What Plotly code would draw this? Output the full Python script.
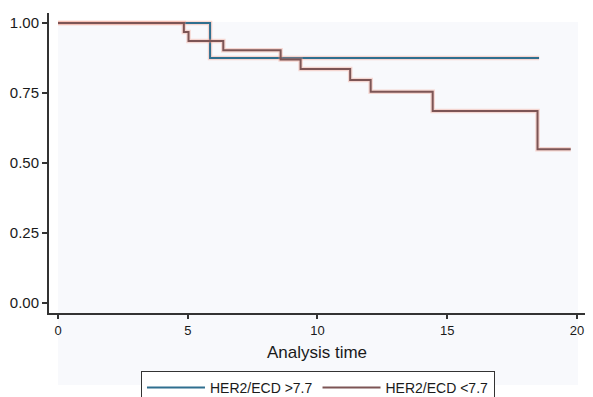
import plotly.graph_objects as go

# Kaplan-Meier step data
time_high = [0, 5.86, 18.54]
surv_high = [1.0, 0.875, 0.875]

time_low = [0, 4.85, 5.03, 6.37, 8.58, 9.35, 11.26, 12.05, 14.44, 18.48, 19.76]
surv_low = [1.0, 0.968, 0.936, 0.903, 0.870, 0.836, 0.797, 0.755, 0.686, 0.549, 0.549]

name_high = "HER2/ECD >7.7"
name_low = "HER2/ECD <7.7"

x_ticks = [0, 5, 10, 15, 20]
y_ticks = [0.0, 0.25, 0.5, 0.75, 1.0]
y_tick_text = ["0.00", "0.25", "0.50", "0.75", "1.00"]

halo = "rgba(240,150,130,0.35)"
col_high = "#2f6f8f"
col_low = "#7d5555"

fig = go.Figure()
fig.add_trace(go.Scatter(x=time_high, y=surv_high, mode="lines", line_shape="hv",
                         line=dict(color=halo, width=4.5), showlegend=False, hoverinfo="skip"))
fig.add_trace(go.Scatter(x=time_high, y=surv_high, mode="lines", line_shape="hv",
                         name=name_high, line=dict(color=col_high, width=2)))
fig.add_trace(go.Scatter(x=time_low, y=surv_low, mode="lines", line_shape="hv",
                         line=dict(color=halo, width=4.5), showlegend=False, hoverinfo="skip"))
fig.add_trace(go.Scatter(x=time_low, y=surv_low, mode="lines", line_shape="hv",
                         name=name_low, line=dict(color=col_low, width=2)))

# page body has an 8px margin: figure is placed at (8, 8)
fig.update_layout(
    width=577, height=389,
    margin=dict(l=41, r=0, t=5, b=84, autoexpand=False),
    paper_bgcolor="white",
    plot_bgcolor="rgba(0,0,0,0)",
    font=dict(family="Liberation Sans, Arial, sans-serif", color="#1a1a1a"),
    shapes=[dict(type="rect", xref="paper", yref="paper", x0=0.0168, x1=0.987, y0=-0.24, y1=0.97,
                 fillcolor="#f8f9fc", line=dict(width=0), layer="below")],
    xaxis=dict(range=[-0.347, 20.31], tickvals=x_ticks, ticks="outside", ticklen=4, tickwidth=1.5,
               tickcolor="#333", showline=True, linecolor="#333", linewidth=2, showgrid=False,
               zeroline=False, tickfont=dict(size=13), ticklabeloverflow="allow",
               title=dict(text="Analysis time", font=dict(size=17), standoff=10)),
    yaxis=dict(range=[-0.036, 1.036], tickvals=y_ticks, ticktext=y_tick_text, ticks="outside",
               ticklen=5, tickwidth=1.5, tickcolor="#333", showline=True, linecolor="#333",
               linewidth=2, showgrid=False, zeroline=False, tickfont=dict(size=15)),
    legend=dict(orientation="h", x=0.1716, xanchor="left", y=-0.193, yanchor="top",
                bordercolor="#333", borderwidth=1, bgcolor="white", font=dict(size=14),
                itemwidth=58),
)

fig.write_html("out.html")
